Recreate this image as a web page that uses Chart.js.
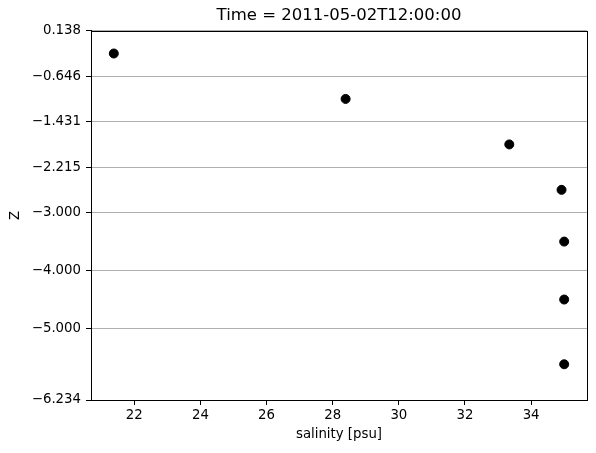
<!DOCTYPE html>
<html>
<head>
<meta charset="utf-8">
<script src="https://cdn.jsdelivr.net/npm/chart.js@4"></script>
<style>
  html, body { margin: 0; padding: 0; background: #fff; }
  #wrap { width: 596px; height: 453px; }
</style>
</head>
<body>
<div id="wrap"><canvas id="profileCanvas" width="596" height="453"></canvas></div>
<script>
const salinity = [21.38, 28.39, 33.34, 34.92, 35.0, 35.0, 35.0];
const depthZ = [-0.254, -1.038, -1.823, -2.607, -3.5, -4.5, -5.617];
const zTicks = [0.138, -0.646, -1.431, -2.215, -3.0, -4.0, -5.0, -6.234];
const salinityTicks = [22, 24, 26, 28, 30, 32, 34];

Chart.defaults.font.family = "'DejaVu Sans', sans-serif";
Chart.defaults.color = "#000";

const frameBox = {
  id: "frameBox",
  afterDraw(chart) {
    const { ctx, chartArea } = chart;
    ctx.save();
    ctx.strokeStyle = "#000";
    ctx.lineWidth = 1;
    ctx.strokeRect(
      Math.round(chartArea.left) + 0.5,
      Math.round(chartArea.top) + 0.5,
      Math.round(chartArea.right - chartArea.left),
      Math.round(chartArea.bottom - chartArea.top)
    );
    ctx.restore();
  },
};

const fmtMinus = (v, digits) => {
  const s = Math.abs(v).toFixed(digits);
  return v < 0 ? "\u2212" + s : s;
};

new Chart(document.getElementById("profileCanvas"), {
  type: "scatter",
  data: {
    datasets: [
      {
        label: "salinity",
        data: salinity.map((s, i) => ({ x: s, y: depthZ[i] })),
        backgroundColor: "#000",
        borderColor: "#000",
        pointRadius: 4.5,
        pointHoverRadius: 4.5,
      },
    ],
  },
  plugins: [frameBox],
  options: {
    responsive: false,
    animation: false,
    layout: { padding: { left: 0, right: 9, top: 0, bottom: 0 } },
    plugins: {
      legend: { display: false },
      tooltip: { enabled: false },
      title: {
        display: true,
        fullSize: false,
        text: "Time = 2011-05-02T12:00:00",
        font: { size: 16.5, weight: "normal" },
        color: "#000",
        padding: { top: 6, bottom: 5 },
      },
    },
    scales: {
      x: {
        type: "linear",
        min: 20.69,
        max: 35.69,
        afterBuildTicks: (scale) => {
          scale.ticks = salinityTicks.map((v) => ({ value: v }));
        },
        afterFit: (scale) => {
          scale.height = 53;
        },
        ticks: {
          font: { size: 13.3 },
          padding: 3,
          maxRotation: 0,
          callback: (v) => String(v),
        },
        grid: {
          drawOnChartArea: false,
          tickLength: 5,
          tickColor: "#000",
          color: "#000",
        },
        border: { display: true, color: "#000", width: 1 },
        title: {
          display: true,
          text: "salinity [psu]",
          font: { size: 13.3 },
          padding: { top: 1, bottom: 10 },
        },
      },
      y: {
        type: "linear",
        min: -6.234,
        max: 0.138,
        afterBuildTicks: (scale) => {
          scale.ticks = zTicks.map((v) => ({ value: v }));
        },
        afterFit: (scale) => {
          scale.width = 91;
        },
        ticks: {
          font: { size: 13.3 },
          padding: 5,
          callback: (v) => fmtMinus(v, 3),
        },
        grid: {
          color: "#b0b0b0",
          lineWidth: 1,
          tickLength: 5,
          tickColor: "#000",
        },
        border: { display: true, color: "#000", width: 1 },
        title: {
          display: true,
          text: "Z",
          font: { size: 13.3 },
          padding: { top: 8, bottom: 2 },
        },
      },
    },
  },
});
</script>
</body>
</html>
